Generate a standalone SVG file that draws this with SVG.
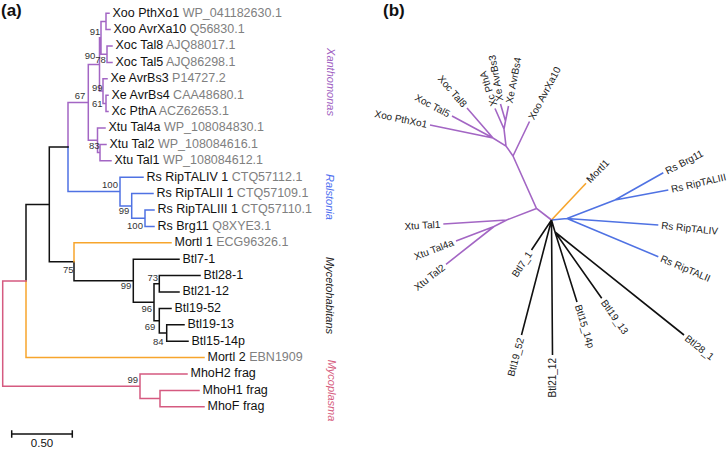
<svg xmlns="http://www.w3.org/2000/svg" width="727" height="450" viewBox="0 0 727 450">
<style>
text{font-family:"Liberation Sans",Arial,sans-serif}
.lbl{font-size:12.5px;fill:#111}
.acc{fill:#808080}
.bs{font-size:9.5px;fill:#333;text-anchor:middle}
.clade{font-size:11px;font-style:italic;text-anchor:middle;dominant-baseline:central}
.tb{font-size:10px;fill:#222;dominant-baseline:central}
.end{text-anchor:end}
.panel{font-size:17px;font-weight:bold;fill:#111}
.e{fill:none;stroke-width:1.5;stroke-linecap:square}
.eb{fill:none;stroke-width:1.6;stroke-linecap:butt}
.pu{stroke:#a366c4}
.bl{stroke:#4f72e3}
.or{stroke:#f7a52c}
.pk{stroke:#d55a80}
.k{stroke:#111}
</style>
<rect width="727" height="450" fill="#fff"/>
<text class="panel" x="1" y="16">(a)</text>
<text class="panel" x="383" y="16">(b)</text>

<g id="connectors-a">
<path class="e pu" d="M106,13.2V29.6M106,13.2H109M106,29.6H110M107,46V62.4M107,46H112M107,62.4H112M101,21.4V54.2M101,21.4H106M101,54.2H107M106,95.2V111.6M106,95.2H108M106,111.6H108M103,78.8V103.4M103,78.8H107M103,103.4H106M99.5,37.8V91.1M99.5,37.8H101M99.5,91.1H103M100,144.4V160.8M100,144.4H106M100,160.8H111M97.5,128V152.6M97.5,128H105M97.5,152.6H100M88.3,64.45V140.3M88.3,64.45H99.5M88.3,140.3H97.5M68,147V102.4H88.3"/>
<path class="e bl" d="M145,210V226.4M145,210H154M145,226.4H154M131.7,193.6V218.2M131.7,193.6H153M131.7,218.2H145M120,177.2V205.9M120,177.2H143M120,205.9H131.7M68,147V191.55H120"/>
<path class="e k" d="M159.3,275.6V292M159.3,275.6H200M159.3,292H179M166.7,324.8V341.2M166.7,324.8H184M166.7,341.2H188M159.3,308.4V333M159.3,308.4H171M159.3,333H166.7M154,283.8V320.7M154,283.8H159.3M154,320.7H159.3M133.3,259.2V302.25M133.3,259.2H179M133.3,302.25H154M74,261.75V280.7H133.3M49.3,147V261.75M49.3,147H68M49.3,261.75H74M26,281V204.4H49.3"/>
<path class="e or" d="M74,261.75V242.8H171M26,281V357.6H204"/>
<path class="e pk" d="M26,281H2.7V386.3H140M140,374V398.6M140,374H187M140,398.6H160M160,390.4V406.8M160,390.4H199M160,406.8H204"/>
<path class="e k" d="M11.7,434H72.3M11.7,431V437M72.3,431V437"/>
</g>

<g id="bootstrap-a">
<text class="bs" x="95" y="35">91</text>
<text class="bs" x="90" y="59.4">90</text>
<text class="bs" x="100.5" y="62.9">78</text>
<text class="bs" x="97.3" y="90.7">99</text>
<text class="bs" x="80" y="99.4">67</text>
<text class="bs" x="97.3" y="106.7">61</text>
<text class="bs" x="94.3" y="149.1">83</text>
<text class="bs" x="110" y="187.7">100</text>
<text class="bs" x="124" y="214.4">99</text>
<text class="bs" x="135" y="229.4">100</text>
<text class="bs" x="68.3" y="272.7">75</text>
<text class="bs" x="126" y="289.4">99</text>
<text class="bs" x="152.7" y="281.1">73</text>
<text class="bs" x="146.7" y="311.7">96</text>
<text class="bs" x="150" y="330.1">69</text>
<text class="bs" x="158.3" y="345.1">84</text>
<text class="bs" x="132.7" y="383.4">99</text>
</g>

<g id="leaf-a-XooPthXo1"><text class="lbl" x="112.5" y="16.5">Xoo PthXo1<tspan class="acc"> WP_041182630.1</tspan></text></g>
<g id="leaf-a-XooAvrXa10"><text class="lbl" x="113.5" y="32.9">Xoo AvrXa10<tspan class="acc"> Q56830.1</tspan></text></g>
<g id="leaf-a-XocTal8"><text class="lbl" x="115.5" y="49.3">Xoc Tal8<tspan class="acc"> AJQ88017.1</tspan></text></g>
<g id="leaf-a-XocTal5"><text class="lbl" x="115.5" y="65.7">Xoc Tal5<tspan class="acc"> AJQ86298.1</tspan></text></g>
<g id="leaf-a-XeAvrBs3"><text class="lbl" x="110.5" y="82.1">Xe AvrBs3<tspan class="acc"> P14727.2</tspan></text></g>
<g id="leaf-a-XeAvrBs4"><text class="lbl" x="111.5" y="98.5">Xe AvrBs4<tspan class="acc"> CAA48680.1</tspan></text></g>
<g id="leaf-a-XcPthA"><text class="lbl" x="111.5" y="114.9">Xc PthA<tspan class="acc"> ACZ62653.1</tspan></text></g>
<g id="leaf-a-XtuTal4a"><text class="lbl" x="108.5" y="131.3">Xtu Tal4a<tspan class="acc"> WP_108084830.1</tspan></text></g>
<g id="leaf-a-XtuTal2"><text class="lbl" x="109.5" y="147.7">Xtu Tal2<tspan class="acc"> WP_108084616.1</tspan></text></g>
<g id="leaf-a-XtuTal1"><text class="lbl" x="114.5" y="164.1">Xtu Tal1<tspan class="acc"> WP_108084612.1</tspan></text></g>
<g id="leaf-a-RipTALIV"><text class="lbl" x="146.5" y="180.5">Rs RipTALIV 1<tspan class="acc"> CTQ57112.1</tspan></text></g>
<g id="leaf-a-RipTALII"><text class="lbl" x="156.5" y="196.9">Rs RipTALII 1<tspan class="acc"> CTQ57109.1</tspan></text></g>
<g id="leaf-a-RipTALIII"><text class="lbl" x="157.5" y="213.3">Rs RipTALIII 1<tspan class="acc"> CTQ57110.1</tspan></text></g>
<g id="leaf-a-Brg11"><text class="lbl" x="157.5" y="229.7">Rs Brg11<tspan class="acc"> Q8XYE3.1</tspan></text></g>
<g id="leaf-a-Mortl1"><text class="lbl" x="174.5" y="246.1">Mortl 1<tspan class="acc"> ECG96326.1</tspan></text></g>
<g id="leaf-a-Btl7-1"><text class="lbl" x="182.5" y="262.5">Btl7-1</text></g>
<g id="leaf-a-Btl28-1"><text class="lbl" x="203.5" y="278.9">Btl28-1</text></g>
<g id="leaf-a-Btl21-12"><text class="lbl" x="182.5" y="295.3">Btl21-12</text></g>
<g id="leaf-a-Btl19-52"><text class="lbl" x="174.5" y="311.7">Btl19-52</text></g>
<g id="leaf-a-Btl19-13"><text class="lbl" x="187.5" y="328.1">Btl19-13</text></g>
<g id="leaf-a-Btl15-14p"><text class="lbl" x="191.5" y="344.5">Btl15-14p</text></g>
<g id="leaf-a-Mortl2"><text class="lbl" x="207.5" y="360.9">Mortl 2<tspan class="acc"> EBN1909</tspan></text></g>
<g id="leaf-a-MhoH2"><text class="lbl" x="190.5" y="377.3">MhoH2 frag</text></g>
<g id="leaf-a-MhoH1"><text class="lbl" x="202.5" y="393.7">MhoH1 frag</text></g>
<g id="leaf-a-MhoF"><text class="lbl" x="207.5" y="410.1">MhoF frag</text></g>

<g id="clades-a">
<text class="clade" x="330.5" y="82" fill="#a05fc2" transform="rotate(90 330.5 82)">Xanthomonas</text>
<text class="clade" x="330" y="197" fill="#4c6ef0" transform="rotate(90 330 197)">Ralstonia</text>
<text class="clade" x="330" y="295.5" fill="#222" transform="rotate(90 330 295.5)">Mycetohabitans</text>
<text class="clade" x="332" y="390.5" fill="#d65c7e" transform="rotate(90 332 390.5)">Mycoplasma</text>
</g>
<g id="scale-a"><text class="lbl" x="42" y="446.5" text-anchor="middle" style="font-size:11.5px">0.50</text></g>

<g id="connectors-b">
<path class="eb pu" d="M513,156L529.5,121.5M513,156L506,146L493,138L430,125M493,138L452,116M493,138L467,108M506,146L504,129L495,108.5M504,129L505.5,121L500.5,104M505.5,121L508.5,106M513,156L536.5,208.5L551.5,220M536.5,208.5L506.7,220L443.3,224M506.7,220L494,226.5L456,241M494,226.5L446,264.3"/>
<path class="eb or" d="M551.5,220L586,183.3"/>
<path class="eb bl" d="M551.5,220L567,218.5L615,200L663.3,172.7M615,200L668.3,190M567,218.5L658.3,225M567,218.5L658.3,256.7"/>
<path class="eb k" d="M551.5,220L531.5,250M551.5,220L521.5,335M551.5,220L552.5,355M551.5,220L555,232L577,302M555,232L601.7,298.3M555,232L684,335"/>
</g>

<g id="leaf-b-XooPthXo1"><text class="tb end" x="427.1" y="124.4" transform="rotate(11.7 427.1 124.4)">Xoo PthXo1</text></g>
<g id="leaf-b-XocTal5"><text class="tb end" x="449.4" y="114.6" transform="rotate(28.2 449.4 114.6)">Xoc Tal5</text></g>
<g id="leaf-b-XocTal8"><text class="tb end" x="465" y="105.7" transform="rotate(49.1 465 105.7)">Xoc Tal8</text></g>
<g id="leaf-b-XcPthA"><text class="tb" x="493.8" y="105.8" transform="rotate(-108 493.8 105.8)">Xc PthA</text></g>
<g id="leaf-b-XeAvrBs3"><text class="tb" x="499.9" y="101" transform="rotate(-100 499.9 101)">Xe AvrBs3</text></g>
<g id="leaf-b-XeAvrBs4"><text class="tb" x="509.1" y="103" transform="rotate(-79 509.1 103)">Xe AvrBs4</text></g>
<g id="leaf-b-XooAvrXa10"><text class="tb" x="530.8" y="118.8" transform="rotate(-62 530.8 118.8)">Xoo AvrXa10</text></g>
<g id="leaf-b-Mortl1"><text class="tb" x="588" y="181.1" transform="rotate(-46 588 181.1)">Mortl1</text></g>
<g id="leaf-b-Brg11"><text class="tb" x="666" y="171.3" transform="rotate(-27 666 171.3)">Rs Brg11</text></g>
<g id="leaf-b-RipTALIII"><text class="tb" x="671.3" y="189.4" transform="rotate(-13 671.3 189.4)">Rs RipTALIII</text></g>
<g id="leaf-b-RipTALIV"><text class="tb" x="661.3" y="225.3" transform="rotate(6 661.3 225.3)">Rs RipTALIV</text></g>
<g id="leaf-b-RipTALII"><text class="tb" x="661" y="258" transform="rotate(23 661 258)">Rs RipTALII</text></g>
<g id="leaf-b-Btl28_1"><text class="tb" x="686.3" y="336.9" transform="rotate(38.6 686.3 336.9)">Btl28_1</text></g>
<g id="leaf-b-Btl19_13"><text class="tb" x="603.4" y="300.8" transform="rotate(54.8 603.4 300.8)">Btl19_13</text></g>
<g id="leaf-b-Btl15_14p"><text class="tb" x="578" y="304.9" transform="rotate(72.6 578 304.9)">Btl15_14p</text></g>
<g id="leaf-b-Btl21_12"><text class="tb end" x="552.5" y="358" transform="rotate(-90 552.5 358)">Btl21_12</text></g>
<g id="leaf-b-Btl19_52"><text class="tb end" x="520.7" y="337.9" transform="rotate(-75.4 520.7 337.9)">Btl19_52</text></g>
<g id="leaf-b-Btl7_1"><text class="tb end" x="529.8" y="252.5" transform="rotate(-56.3 529.8 252.5)">Btl7_1</text></g>
<g id="leaf-b-XtuTal1"><text class="tb end" x="440.3" y="224.2" transform="rotate(-3.6 440.3 224.2)">Xtu Tal1</text></g>
<g id="leaf-b-XtuTal4a"><text class="tb end" x="453.2" y="242.1" transform="rotate(-20.9 453.2 242.1)">Xtu Tal4a</text></g>
<g id="leaf-b-XtuTal2"><text class="tb end" x="443.6" y="266.2" transform="rotate(-38.2 443.6 266.2)">Xtu Tal2</text></g>
</svg>
